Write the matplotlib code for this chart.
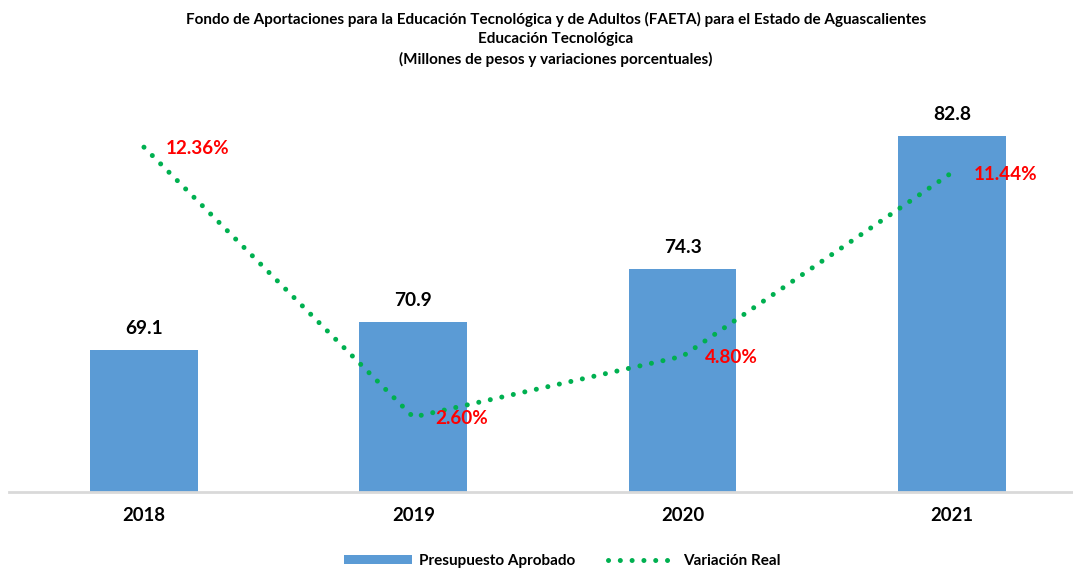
import numpy as np
import matplotlib
matplotlib.use('Agg')
import matplotlib.pyplot as plt
from matplotlib.patches import Patch
from matplotlib.lines import Line2D

plt.rcParams['font.family'] = ['Lato', 'DejaVu Sans']

years = ['2018', '2019', '2020', '2021']
presupuesto = [69.1, 70.9, 74.3, 82.8]
variacion = [12.36, 2.60, 4.80, 11.44]

title = ('Fondo de Aportaciones para la Educación Tecnológica y de Adultos (FAETA) para el Estado de Aguascalientes\n'
         'Educación Tecnológica\n'
         '(Millones de pesos y variaciones porcentuales)')

bar_color = '#5B9BD5'
line_color = '#00B050'

W, H = 1073, 572
fig = plt.figure(figsize=(W / 100, H / 100), dpi=100)

# axes placed in pixel terms of the reference
left_px, right_px, top_px, bottom_px = 9.3, 1086.6, 75, 492
ax = fig.add_axes([left_px / W, (H - bottom_px) / H,
                   (right_px - left_px) / W, (bottom_px - top_px) / H])
ax2 = ax.twinx()

x = np.arange(len(years))
ax.bar(x, presupuesto, width=0.40, color=bar_color, zorder=2)
ax.set_xlim(-0.5, len(years) - 0.5)
ax.set_ylim(60, 86.7)

for xi, v in zip(x, presupuesto):
    ax.annotate(f'{v:.1f}', (xi, v), xytext=(0, 15.5), textcoords='offset points',
                ha='center', va='center', fontsize=13.8, fontweight='bold', color='black')

ax2.plot(x, variacion, color=line_color, lw=3.6, linestyle=(0, (0.01, 2.35)),
         dash_capstyle='round', zorder=3)
ax2.set_ylim(-0.11, 14.97)
for xi, v in zip(x, variacion):
    ax2.annotate(f'{v:.2f}%', (xi, v), xytext=(16, -1), textcoords='offset points',
                 ha='left', va='center', fontsize=13.6, fontweight='bold', color='#FF0000',
                 zorder=5)

ax.set_xticks(x)
ax.set_xticklabels(years, fontsize=13.3, fontweight='bold')
ax.tick_params(axis='x', length=0, pad=11)
ax.set_yticks([])
ax2.set_yticks([])
for a in (ax, ax2):
    for s in ('top', 'left', 'right', 'bottom'):
        a.spines[s].set_visible(False)
ax.spines['bottom'].set_visible(True)
ax.spines['bottom'].set_color('#D9D9D9')
ax.spines['bottom'].set_linewidth(2)
ax.set_zorder(1)
ax2.set_zorder(2)
ax.patch.set_visible(False)

fig.text(0.518, 1 - 12 / H, title, ha='center', va='top', fontsize=11,
         fontweight='bold', linespacing=1.45)

handles = [Patch(facecolor=bar_color, edgecolor='none'),
           Line2D([0], [0], color=line_color, lw=3.6, linestyle=(0, (0.01, 2.35)),
                  dash_capstyle='round')]
fig.legend(handles, ['Presupuesto Aprobado', 'Variación Real'], loc='center',
           bbox_to_anchor=(0.524, 1 - 561 / H), ncol=2, frameon=False,
           prop={'weight': 'bold', 'size': 11}, handlelength=4.5, handleheight=0.5,
           columnspacing=2.2, handletextpad=0.4)

fig.savefig('out.png', dpi=100, facecolor='white')
